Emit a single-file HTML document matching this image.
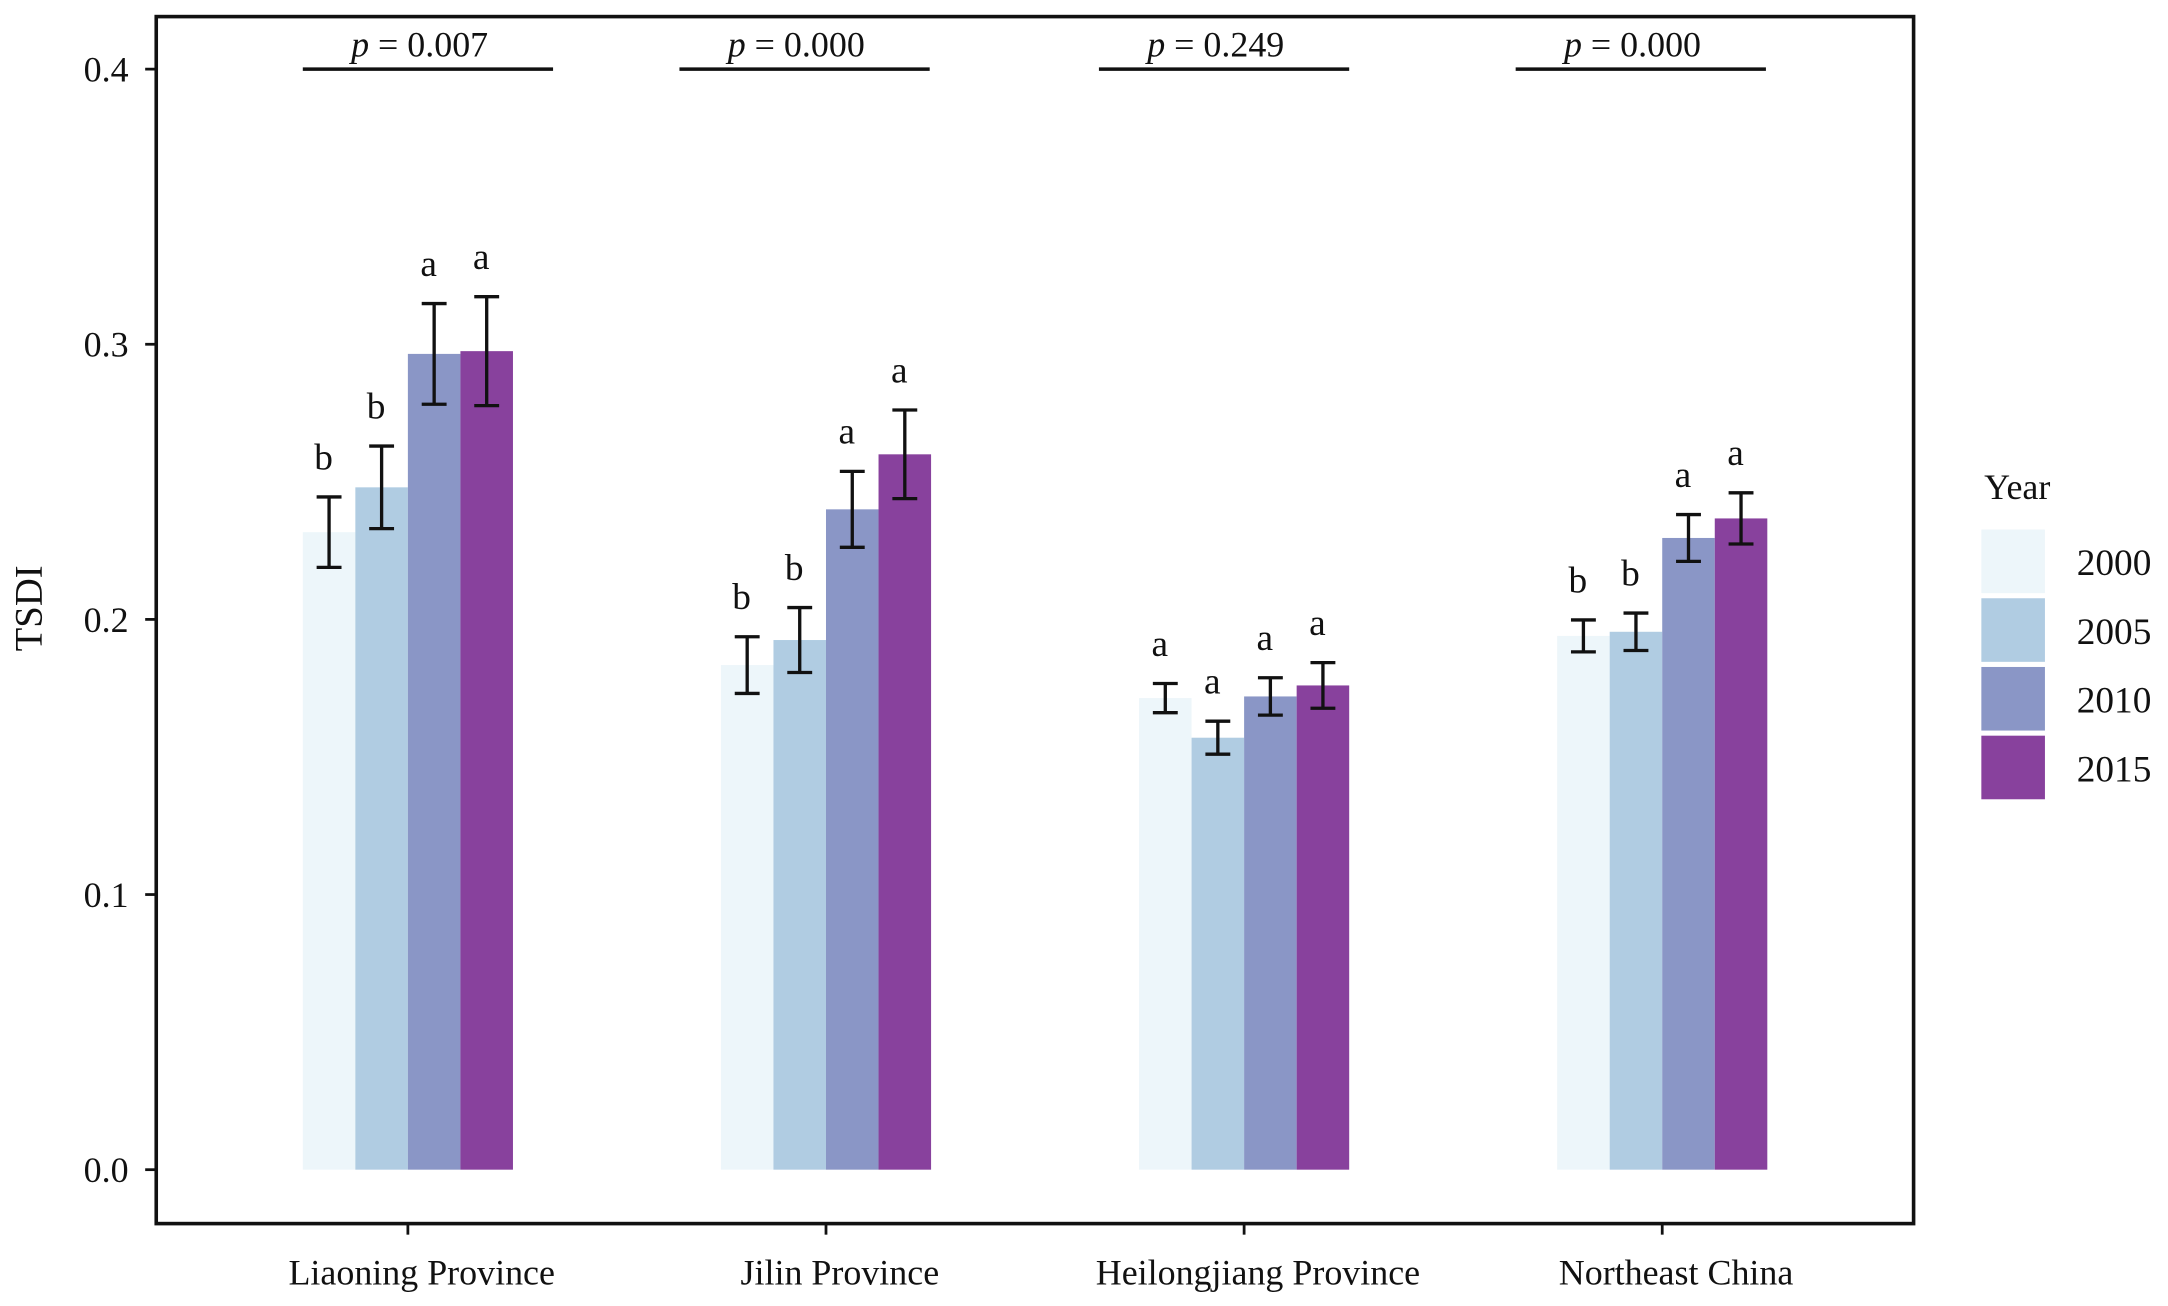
<!DOCTYPE html>
<html><head><meta charset="utf-8"><style>html,body{margin:0;padding:0;background:#fff}svg{display:block}text{font-family:"Liberation Serif",serif;fill:#111}</style></head>
<body>
<svg id="chart" width="2168" height="1306" viewBox="0 0 1568 944.6" preserveAspectRatio="none" xmlns="http://www.w3.org/2000/svg"></svg>
<script>
const categories = ["Liaoning Province","Jilin Province","Heilongjiang Province","Northeast China"];
const years = ["2000","2005","2010","2015"];
const colors = ["#EDF6FA","#B0CCE2","#8A96C6","#88419D"];
const values = [
  [0.2317,0.2480,0.2965,0.2975],
  [0.1834,0.1925,0.2400,0.2600],
  [0.1714,0.1570,0.1720,0.1760],
  [0.1940,0.1955,0.2296,0.2367]
];
const errors = [
  [0.0128,0.0150,0.0183,0.0198],
  [0.0103,0.0118,0.0138,0.0161],
  [0.0053,0.0060,0.0068,0.0083],
  [0.0058,0.0068,0.0085,0.0093]
];
const letters = [["b","b","a","a"],["b","b","a","a"],["a","a","a","a"],["b","b","a","a"]];
const pValues = ["0.007","0.000","0.249","0.000"];
const yTicks = [0.0,0.1,0.2,0.3,0.4];

const NS="http://www.w3.org/2000/svg";
const svg=document.getElementById('chart');
function el(tag,attrs,parent){const e=document.createElementNS(NS,tag);for(const k in attrs)e.setAttribute(k,attrs[k]);(parent||svg).appendChild(e);return e;}
const y0=846, yPer=1990;
function Y(v){return y0-v*yPer;}
const groupCenters0=295, groupStep=302.4, barW=38;
function X(i){return groupCenters0+i*groupStep;}
const pShift=[0,-30,-29,-30];

const frame=el('rect',{x:113,y:12,width:1271,height:873,fill:'none',stroke:'#111','stroke-width':2.6});



yTicks.forEach(t=>{
  const l=el('line',{x1:105,x2:113,y1:Y(t),y2:Y(t),stroke:'#111','stroke-width':2});
  
  
  const tx=el('text',{x:93,y:Y(t)+9,'text-anchor':'end','font-size':26});
  tx.textContent=t.toFixed(1);
  
  
});
const yt=el('text',{x:30,y:440,'text-anchor':'middle','font-size':28,transform:'rotate(-90 30 440)'});
yt.textContent='TSDI';



categories.forEach((c,i)=>{
  const cx=X(i);
  const t=el('line',{x1:cx,x2:cx,y1:885,y2:893,stroke:'#111','stroke-width':2});
  
  
  const lab=el('text',{x:cx+10,y:929,'text-anchor':'middle','font-size':26});
  lab.textContent=c;
  
  
  const left=cx-2*barW+pShift[i], right=left+181;
  const pl=el('line',{x1:left,x2:right,y1:Y(0.4),y2:Y(0.4),stroke:'#111','stroke-width':2.5});
  
  
  const pt=el('text',{x:(left+right)/2-6,y:Y(0.4)-9,'text-anchor':'middle','font-size':26});
  pt.innerHTML='<tspan font-style="italic">p</tspan> = '+pValues[i];
  
  
  values[i].forEach((v,j)=>{
    const bx=cx-2*barW+j*barW;
    const r=el('rect',{x:bx,y:Y(v),width:barW,height:y0-Y(v),fill:colors[j]});
    
    
    const mx=bx+barW/2, top=Y(v+errors[i][j]), bot=Y(v-errors[i][j]);
    const g=el('g',{stroke:'#111','stroke-width':2.4,fill:'none'});
    
    
    el('line',{x1:mx,x2:mx,y1:top,y2:bot},g);
    el('line',{x1:mx-9,x2:mx+9,y1:top,y2:top},g);
    el('line',{x1:mx-9,x2:mx+9,y1:bot,y2:bot},g);
    const lt=el('text',{x:mx-4,y:top-20,'text-anchor':'middle','font-size':27});
    lt.textContent=letters[i][j];
    
    
  });
});

const lg=el('g',{});


const lt=el('text',{x:1435,y:361,'font-size':26},lg);
lt.textContent='Year';


years.forEach((yv,j)=>{
  const sy=383+j*49.7;
  const s=el('rect',{x:1433,y:sy,width:46,height:46,fill:colors[j]},lg);
  
  
  const t=el('text',{x:1502,y:sy+33,'font-size':27},lg);
  t.textContent=yv;
  
  
});
</script>
</body></html>
